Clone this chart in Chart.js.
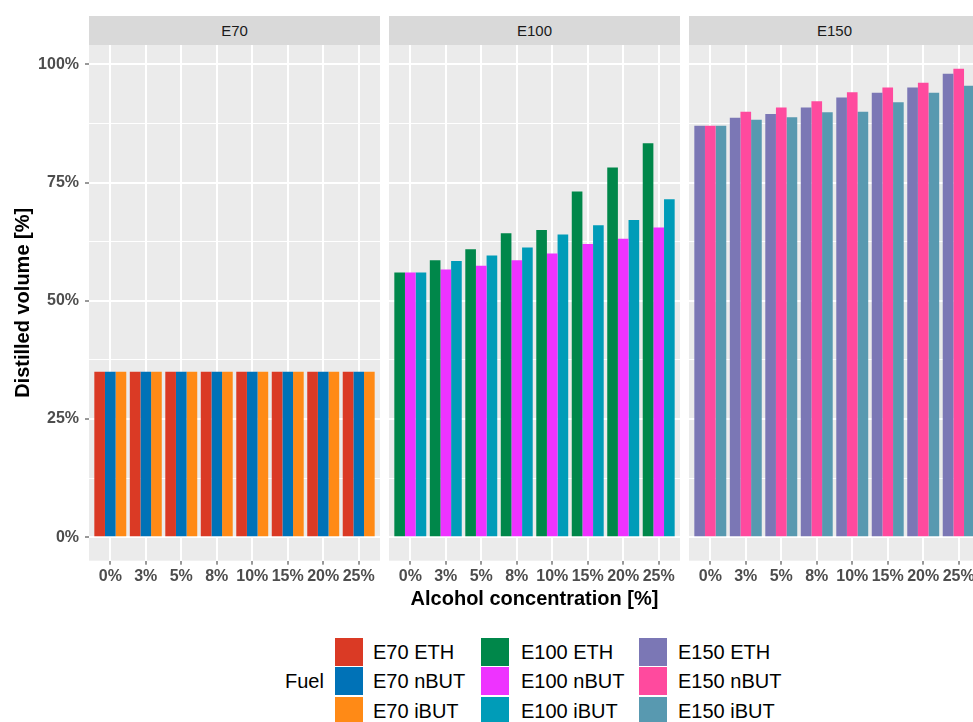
<!DOCTYPE html>
<html>
<head>
<meta charset="utf-8">
<script src="https://cdn.jsdelivr.net/npm/chart.js@4.4.1/dist/chart.umd.min.js"></script>
<style>
  body { margin: 0; background: #fff; font-family: "Liberation Sans", Arial, sans-serif; }
  #page { position: relative; width: 973px; height: 722px; overflow: hidden; background: #fff; }
  #page canvas { position: absolute; top: 45px; }
  .strip { position: absolute; top: 16px; height: 29px; width: 291px; background: #D9D9D9;
           color: #1A1A1A; font-size: 15px; line-height: 29px; text-align: center; }
  #xtitle { position: absolute; left: 89px; width: 891px; top: 586px; line-height: 24px;
            text-align: center; font-weight: bold; font-size: 20px; color: #000; }
  #legend-title { position: absolute; left: 285px; top: 669px; line-height: 24px; font-size: 20px; color: #000; }
  .key { position: absolute; width: 28px; height: 28px; }
  .key-label { position: absolute; font-size: 20px; line-height: 24px; color: #000; white-space: nowrap; }
</style>
</head>
<body>
<div id="page">
  <div class="strip" style="left:89px">E70</div>
  <div class="strip" style="left:389px">E100</div>
  <div class="strip" style="left:689px">E150</div>
  <canvas id="p70" width="380" height="545" style="left:0px"></canvas>
  <canvas id="p100" width="291" height="545" style="left:389px"></canvas>
  <canvas id="p150" width="291" height="545" style="left:689px"></canvas>
  <div id="xtitle">Alcohol concentration [%]</div>
  <div id="legend-title">Fuel</div>
  <div id="legend"></div>
</div>
<script>
// Alcohol concentration categories (x axis)
const categories = ['0%', '3%', '5%', '8%', '10%', '15%', '20%', '25%'];

// Distilled volume [%] per fuel
const e70Eth  = [35, 35, 35, 35, 35, 35, 35, 35];
const e70nBut = [35, 35, 35, 35, 35, 35, 35, 35];
const e70iBut = [35, 35, 35, 35, 35, 35, 35, 35];

const e100Eth  = [56.0, 58.6, 60.9, 64.3, 65.0, 73.1, 78.2, 83.3];
const e100nBut = [56.0, 56.6, 57.4, 58.6, 60.0, 62.0, 63.1, 65.5];
const e100iBut = [56.0, 58.4, 59.6, 61.3, 64.0, 66.0, 67.1, 71.5];

const e150Eth  = [87.0, 88.7, 89.5, 90.9, 93.0, 94.0, 95.1, 98.0];
const e150nBut = [87.0, 90.0, 90.9, 92.2, 94.1, 95.1, 96.1, 99.1];
const e150iBut = [87.0, 88.3, 88.8, 89.9, 90.0, 92.0, 94.0, 95.5];

// Fuel names and fill colours
const fuelNames = [
  'E70 ETH', 'E70 nBUT', 'E70 iBUT',
  'E100 ETH', 'E100 nBUT', 'E100 iBUT',
  'E150 ETH', 'E150 nBUT', 'E150 iBUT'
];
const fuelColors = [
  '#DA3A25', '#0072B7', '#FF8A16',
  '#00874A', '#EE33FF', '#009CB8',
  '#7B77B5', '#FF4A9E', '#5899B0'
];

// Y axis ticks: labelled majors and unlabelled minors
const yMajor = [0, 25, 50, 75, 100];
const yMinor = [12.5, 37.5, 62.5, 87.5];
const yMin = -4.96, yMax = 104.1;

const tickFont = { family: '"Liberation Sans", Arial, sans-serif', size: 16, weight: 'bold' };

// Grey panel background behind the grid
const panelBg = {
  id: 'panelBg',
  beforeDraw(chart) {
    const { ctx, chartArea: a } = chart;
    ctx.save();
    ctx.fillStyle = '#EBEBEB';
    ctx.fillRect(a.left, a.top, a.right - a.left, a.bottom - a.top);
    ctx.restore();
  }
};

function makePanel(id, names, series, colors, first) {
  const datasets = series.map((vals, k) => ({
    label: names[k],
    data: vals.map((v, i) => ({ x: i, y: v })),
    backgroundColor: colors[k],
    borderWidth: 0,
    categoryPercentage: 0.9,
    barPercentage: 1.0
  }));
  return new Chart(document.getElementById(id), {
    type: 'bar',
    data: { datasets },
    options: {
      responsive: false,
      animation: false,
      devicePixelRatio: 1,
      layout: { padding: 0 },
      plugins: { legend: { display: false }, tooltip: { enabled: false } },
      scales: {
        x: {
          type: 'linear',
          min: -0.6,
          max: 7.6,
          offset: false,
          afterBuildTicks: s => { s.ticks = categories.map((_, i) => ({ value: i })); },
          afterFit: s => { s.height = 29.3; s.paddingLeft = 0; s.paddingRight = 0; },
          ticks: {
            callback: v => categories[v],
            color: '#4D4D4D',
            font: tickFont,
            padding: 2,
            maxRotation: 0,
            minRotation: 0,
            autoSkip: false
          },
          grid: {
            offset: false,
            color: '#FFFFFF',
            lineWidth: 2,
            tickColor: '#333333',
            tickLength: 4,
            tickWidth: 1
          },
          border: { display: false }
        },
        y: {
          min: yMin,
          max: yMax,
          afterBuildTicks: s => {
            s.ticks = yMajor.concat(yMinor).sort((a, b) => a - b).map(v => ({ value: v }));
          },
          afterFit: s => { s.width = first ? 89 : 0; s.paddingTop = 0; s.paddingBottom = 0; },
          ticks: {
            display: first,
            callback: v => (yMajor.includes(v) ? v + '%' : ''),
            color: '#4D4D4D',
            font: tickFont,
            padding: 6
          },
          grid: {
            color: '#FFFFFF',
            lineWidth: c => (c.tick && yMajor.includes(c.tick.value) ? 2 : 1),
            drawTicks: first,
            tickLength: 4,
            tickWidth: 1,
            tickColor: c => (c.tick && yMajor.includes(c.tick.value) ? '#333333' : 'rgba(0,0,0,0)')
          },
          border: { display: false },
          title: {
            display: first,
            text: 'Distilled volume [%]',
            color: '#000',
            font: { family: '"Liberation Sans", Arial, sans-serif', size: 20, weight: 'bold' },
            padding: { top: 11, bottom: 0 }
          }
        }
      }
    },
    plugins: [panelBg]
  });
}

makePanel('p70',  fuelNames.slice(0, 3), [e70Eth, e70nBut, e70iBut],    fuelColors.slice(0, 3), true);
makePanel('p100', fuelNames.slice(3, 6), [e100Eth, e100nBut, e100iBut], fuelColors.slice(3, 6), false);
makePanel('p150', fuelNames.slice(6, 9), [e150Eth, e150nBut, e150iBut], fuelColors.slice(6, 9), false);

// Legend: three columns of three keys
const keyLeft = [335, 481, 639];
const textLeft = [373, 521, 678];
const rowTop = [637.5, 667, 696.5];
const legend = document.getElementById('legend');
fuelNames.forEach((name, i) => {
  const col = Math.floor(i / 3), row = i % 3;
  const key = document.createElement('div');
  key.className = 'key';
  key.style.left = keyLeft[col] + 'px';
  key.style.top = rowTop[row] + 'px';
  key.style.background = fuelColors[i];
  legend.appendChild(key);
  const lab = document.createElement('div');
  lab.className = 'key-label';
  lab.style.left = textLeft[col] + 'px';
  lab.style.top = (rowTop[row] + 2) + 'px';
  lab.textContent = name;
  legend.appendChild(lab);
});
</script>
</body>
</html>
